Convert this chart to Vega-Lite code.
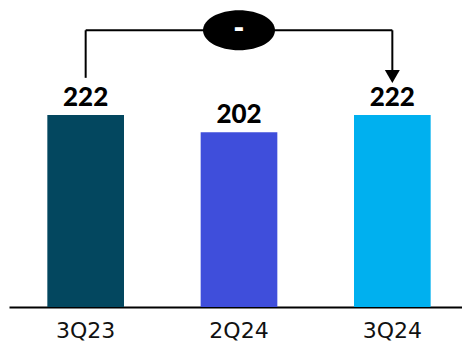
{
  "$schema": "https://vega.github.io/schema/vega-lite/v6.json",
  "width": 453,
  "height": 307,
  "autosize": {"type": "none"},
  "padding": {"left": 9, "top": 0, "right": 0, "bottom": 34},
  "background": "white",
  "config": {"view": {"stroke": null}},
  "datasets": {
    "bars": [
      {"quarter": "3Q23", "value": 222},
      {"quarter": "2Q24", "value": 202},
      {"quarter": "3Q24", "value": 222}
    ],
    "change": [
      {"from": "3Q23", "to": "3Q24", "mid": "2Q24", "label": "-"}
    ]
  },
  "layer": [
    {
      "data": {"name": "bars"},
      "mark": {"type": "bar"},
      "encoding": {
        "x": {
          "field": "quarter",
          "type": "nominal",
          "sort": null,
          "scale": {"domain": ["3Q23", "2Q24", "3Q24"], "range": [0, 460], "paddingInner": 0.5, "paddingOuter": 0.25},
          "axis": {
            "title": null,
            "ticks": false,
            "domainColor": "#000000",
            "domainWidth": 2,
            "labelAngle": 0,
            "labelFont": "DejaVu Sans",
            "labelFontSize": 22,
            "labelColor": "#111111",
            "labelBaseline": "alphabetic",
            "labelPadding": 30
          }
        },
        "y": {
          "field": "value",
          "type": "quantitative",
          "scale": {"domain": [0, 355], "nice": false},
          "axis": null
        },
        "color": {
          "field": "quarter",
          "type": "nominal",
          "scale": {"domain": ["3Q23", "2Q24", "3Q24"], "range": ["#03475F", "#3F4EDB", "#00B0EF"]},
          "legend": null
        }
      }
    },
    {
      "data": {"name": "bars"},
      "mark": {"type": "text", "baseline": "alphabetic", "dy": -9, "font": "Lato", "fontWeight": 900, "fontSize": 26, "color": "#000000"},
      "encoding": {
        "x": {"field": "quarter", "type": "nominal"},
        "y": {"field": "value", "type": "quantitative"},
        "text": {"field": "value", "type": "quantitative"}
      }
    },
    {
      "data": {"name": "change"},
      "mark": {"type": "rule", "strokeWidth": 2, "color": "#000000"},
      "encoding": {
        "x": {"field": "from", "type": "nominal"},
        "x2": {"field": "to"},
        "y": {"datum": 320}
      }
    },
    {
      "data": {"name": "change"},
      "mark": {"type": "rule", "strokeWidth": 2, "color": "#000000"},
      "encoding": {
        "x": {"field": "from", "type": "nominal"},
        "y": {"datum": 265},
        "y2": {"datum": 320}
      }
    },
    {
      "data": {"name": "change"},
      "mark": {"type": "rule", "strokeWidth": 2, "color": "#000000"},
      "encoding": {
        "x": {"field": "to", "type": "nominal"},
        "y": {"datum": 272},
        "y2": {"datum": 320}
      }
    },
    {
      "data": {"name": "change"},
      "mark": {"type": "point", "shape": "M-1,-0.87L1,-0.87L0,0.87Z", "filled": true, "opacity": 1, "color": "#000000", "size": 225},
      "encoding": {
        "x": {"field": "to", "type": "nominal"},
        "y": {"datum": 266.5}
      }
    },
    {
      "data": {"name": "change"},
      "mark": {"type": "point", "shape": "M-1,0C-1,-0.307 -0.552,-0.556 0,-0.556C0.552,-0.556 1,-0.307 1,0C1,0.307 0.552,0.556 0,0.556C-0.552,0.556 -1,0.307 -1,0Z", "filled": true, "opacity": 1, "color": "#000000", "size": 5184},
      "encoding": {
        "x": {"field": "mid", "type": "nominal"},
        "y": {"datum": 320}
      }
    },
    {
      "data": {"name": "change"},
      "mark": {"type": "text", "baseline": "middle", "dy": -1, "font": "DejaVu Sans", "fontWeight": "bold", "fontSize": 26, "color": "#ffffff"},
      "encoding": {
        "x": {"field": "mid", "type": "nominal"},
        "y": {"datum": 320},
        "text": {"field": "label"}
      }
    }
  ]
}
